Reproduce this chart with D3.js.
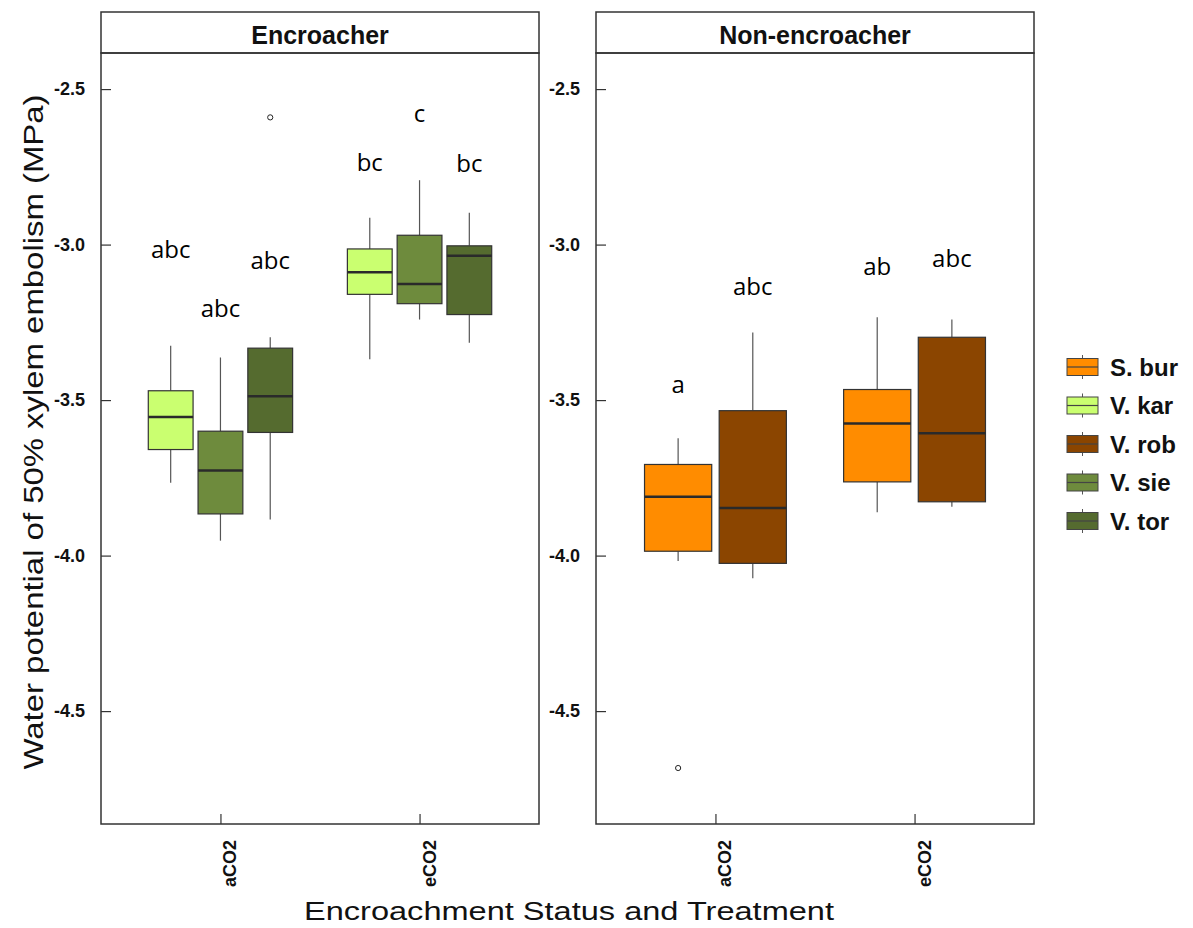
<!DOCTYPE html>
<html>
<head>
<meta charset="utf-8">
<script src="https://cdn.jsdelivr.net/npm/d3@7"></script>
<style>
  html, body { margin: 0; padding: 0; background: #fff; }
  svg { display: block; }
</style>
</head>
<body>
<svg id="chart" width="1193" height="928"></svg>
<script>
// Panels, treatments and species
const panels = ["Encroacher", "Non-encroacher"];
const treatments = ["aCO2", "eCO2"];
const species = ["S. bur", "V. kar", "V. rob", "V. sie", "V. tor"];
const speciesColors = ["#FF8C00", "#CAFF70", "#8B4500", "#6E8B3D", "#556B2F"];
const yTicks = [-2.5, -3.0, -3.5, -4.0, -4.5];

// Box statistics: panel, treatment, species, lower whisker, Q1, median, Q3, upper whisker (MPa)
const boxStats = [
  ["Encroacher", "aCO2", "V. kar", -3.766, -3.659, -3.554, -3.470, -3.325],
  ["Encroacher", "aCO2", "V. sie", -3.952, -3.866, -3.726, -3.600, -3.363],
  ["Encroacher", "aCO2", "V. tor", -3.884, -3.604, -3.488, -3.333, -3.298],
  ["Encroacher", "eCO2", "V. kar", -3.369, -3.160, -3.089, -3.014, -2.914],
  ["Encroacher", "eCO2", "V. sie", -3.241, -3.190, -3.127, -2.970, -2.793],
  ["Encroacher", "eCO2", "V. tor", -3.316, -3.225, -3.036, -3.004, -2.898],
  ["Non-encroacher", "aCO2", "S. bur", -4.017, -3.986, -3.811, -3.707, -3.623],
  ["Non-encroacher", "aCO2", "V. rob", -4.073, -4.025, -3.847, -3.534, -3.283],
  ["Non-encroacher", "eCO2", "S. bur", -3.861, -3.763, -3.575, -3.466, -3.234],
  ["Non-encroacher", "eCO2", "V. rob", -3.843, -3.827, -3.607, -3.298, -3.241]
];

// Outlying observations: panel, treatment, species, value
const outliers = [
  ["Encroacher", "aCO2", "V. tor", -2.591],
  ["Non-encroacher", "aCO2", "S. bur", -4.683]
];

// Significance letters: panel, treatment, species, letters, baseline value
const letters = [
  ["Encroacher", "aCO2", "V. kar", "abc", -3.043],
  ["Encroacher", "aCO2", "V. sie", "abc", -3.233],
  ["Encroacher", "aCO2", "V. tor", "abc", -3.079],
  ["Encroacher", "eCO2", "V. kar", "bc", -2.764],
  ["Encroacher", "eCO2", "V. sie", "c", -2.606],
  ["Encroacher", "eCO2", "V. tor", "bc", -2.767],
  ["Non-encroacher", "aCO2", "S. bur", "a", -3.477],
  ["Non-encroacher", "aCO2", "V. rob", "abc", -3.162],
  ["Non-encroacher", "eCO2", "S. bur", "ab", -3.098],
  ["Non-encroacher", "eCO2", "V. rob", "abc", -3.072]
];

const svg = d3.select("#chart");
const FONT = "'Liberation Sans', Arial, Helvetica, sans-serif";

const stripTop = 12, panelTop = 53, panelBottom = 824;
const panelX = [[101, 539], [596, 1034]];

const y = d3.scaleLinear().domain([-4.863, -2.384]).range([panelBottom, panelTop]);
const color = d3.scaleOrdinal().domain(species).range(speciesColors);

panels.forEach((panel, pi) => {
  const [x0, x1] = panelX[pi];
  const x = d3.scaleLinear().domain([0.4, 2.6]).range([x0, x1]);
  const g = svg.append("g");

  // species drawn within this panel, in legend order
  const present = species.filter(s => boxStats.some(b => b[0] === panel && b[2] === s));
  const n = present.length;
  const step = 0.75 / n;
  const boxW = 0.9 * step;
  const pos = (t, s) => (treatments.indexOf(t) + 1) + (present.indexOf(s) - (n - 1) / 2) * step;

  // strip
  g.append("rect").attr("x", x0).attr("y", stripTop).attr("width", x1 - x0).attr("height", panelTop - stripTop)
    .attr("fill", "#fff").attr("stroke", "#333").attr("stroke-width", 1.5);
  g.append("text").attr("x", (x0 + x1) / 2).attr("y", 44)
    .attr("text-anchor", "middle").attr("font-family", FONT).attr("font-weight", "bold")
    .attr("font-size", 25).attr("fill", "#111").text(panel);

  // boxes
  const rows = boxStats.filter(b => b[0] === panel);
  const bx = g.append("g");
  rows.forEach(b => {
    const cx = x(pos(b[1], b[2]));
    const half = (x(boxW) - x(0)) / 2;
    bx.append("line").attr("x1", cx).attr("x2", cx).attr("y1", y(b[3])).attr("y2", y(b[4]))
      .attr("stroke", "#555").attr("stroke-width", 1.2);
    bx.append("line").attr("x1", cx).attr("x2", cx).attr("y1", y(b[6])).attr("y2", y(b[7]))
      .attr("stroke", "#555").attr("stroke-width", 1.2);
    bx.append("rect").attr("x", cx - half).attr("y", y(b[6])).attr("width", 2 * half)
      .attr("height", y(b[4]) - y(b[6])).attr("fill", color(b[2]))
      .attr("stroke", "#333").attr("stroke-width", 1.2);
    bx.append("line").attr("x1", cx - half).attr("x2", cx + half).attr("y1", y(b[5])).attr("y2", y(b[5]))
      .attr("stroke", "#2a2a2a").attr("stroke-width", 2.5);
  });

  outliers.filter(o => o[0] === panel).forEach(o => {
    g.append("circle").attr("cx", x(pos(o[1], o[2]))).attr("cy", y(o[3])).attr("r", 2.6)
      .attr("fill", "none").attr("stroke", "#222").attr("stroke-width", 1);
  });

  letters.filter(l => l[0] === panel).forEach(l => {
    g.append("text").attr("x", x(pos(l[1], l[2]))).attr("y", y(l[4]))
      .attr("text-anchor", "middle").attr("font-family", "'Open Sans', 'Noto Sans', sans-serif")
      .attr("font-size", 24).attr("fill", "#000").text(l[3]);
  });

  // panel frame
  g.append("rect").attr("x", x0).attr("y", panelTop).attr("width", x1 - x0).attr("height", panelBottom - panelTop)
    .attr("fill", "none").attr("stroke", "#333").attr("stroke-width", 1.5);

  // y axis: inward ticks, labels outside
  const ya = g.append("g").attr("transform", `translate(${x0},0)`)
    .call(d3.axisLeft(y).tickValues(yTicks).tickSizeInner(-10).tickSizeOuter(0).tickPadding(16)
      .tickFormat(d => d.toFixed(1)));
  ya.select(".domain").remove();
  ya.selectAll(".tick line").attr("stroke", "#333").attr("stroke-width", 1.2);
  ya.selectAll(".tick text").attr("font-family", FONT).attr("font-weight", "bold")
    .attr("font-size", 18).attr("fill", "#111");

  // x axis: inward ticks, rotated labels
  const xa = g.append("g").attr("transform", `translate(0,${panelBottom})`)
    .call(d3.axisBottom(x).tickValues([1, 2]).tickSizeInner(-10).tickSizeOuter(0).tickFormat(""));
  xa.select(".domain").remove();
  xa.selectAll(".tick line").attr("stroke", "#333").attr("stroke-width", 1.2);
  treatments.forEach((t, i) => {
    g.append("text").attr("transform", `translate(${x(i + 1) + 10},840) rotate(-90)`)
      .attr("text-anchor", "end").attr("dominant-baseline", "central")
      .attr("font-family", FONT).attr("font-weight", "bold").attr("font-size", 18)
      .attr("fill", "#111").text(t);
  });
});

// axis titles
svg.append("text").attr("transform", "translate(43,432) rotate(-90)")
  .attr("text-anchor", "middle").attr("font-family", FONT).attr("font-size", 28)
  .attr("textLength", 675).attr("lengthAdjust", "spacingAndGlyphs")
  .attr("fill", "#111").text("Water potential of 50% xylem embolism (MPa)");
svg.append("text").attr("x", 569).attr("y", 920)
  .attr("text-anchor", "middle").attr("font-family", FONT).attr("font-size", 26)
  .attr("textLength", 530).attr("lengthAdjust", "spacingAndGlyphs")
  .attr("fill", "#111").text("Encroachment Status and Treatment");

// legend
const legend = svg.append("g");
species.forEach((s, i) => {
  const cy = 367 + i * 38.5;
  const lg = legend.append("g");
  lg.append("line").attr("x1", 1082.5).attr("x2", 1082.5).attr("y1", cy - 12).attr("y2", cy + 12)
    .attr("stroke", "#555").attr("stroke-width", 1);
  lg.append("rect").attr("x", 1067).attr("y", cy - 8.5).attr("width", 31).attr("height", 17)
    .attr("fill", color(s)).attr("stroke", "#444").attr("stroke-width", 1);
  lg.append("line").attr("x1", 1067).attr("x2", 1098).attr("y1", cy).attr("y2", cy)
    .attr("stroke", "#444").attr("stroke-width", 1.2);
  lg.append("text").attr("x", 1110).attr("y", cy + 8.5).attr("font-family", FONT)
    .attr("font-weight", "bold").attr("font-size", 24).attr("fill", "#111").text(s);
});
</script>
</body>
</html>
